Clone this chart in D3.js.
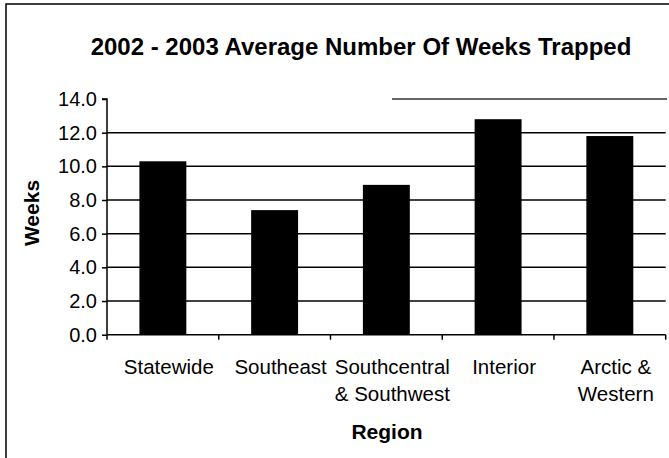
<!DOCTYPE html>
<html>
<head>
<meta charset="utf-8">
<script src="https://cdn.jsdelivr.net/npm/d3@7/dist/d3.min.js"></script>
<style>
  html, body { margin: 0; padding: 0; background: #fff; }
  svg { display: block; font-family: "Liberation Sans", Arial, sans-serif; }
</style>
</head>
<body>
<svg id="chart" width="669" height="458"></svg>
<script>
// ---- data ----
const categories = ["Statewide", "Southeast", "Southcentral & Southwest", "Interior", "Arctic & Western"];
const categoryLines = [["Statewide"], ["Southeast"], ["Southcentral", "& Southwest"], ["Interior"], ["Arctic &", "Western"]];
const weeks = [10.3, 7.4, 8.9, 12.8, 11.8];
const yTicks = [0, 2, 4, 6, 8, 10, 12, 14];
const title = "2002 - 2003 Average Number Of Weeks Trapped";
const yTitle = "Weeks";
const xTitle = "Region";

// ---- layout ----
const svg = d3.select("#chart");
const plot = { left: 107, right: 665.7, top: 99, bottom: 334.7 };

const x = d3.scaleBand().domain(categories).range([plot.left, plot.right]).padding(0);
const y = d3.scaleLinear().domain([0, 14]).range([plot.bottom, plot.top]);

// outer border (left + top)
svg.append("path")
  .attr("d", `M6,458 L6,4 L669,4`)
  .attr("fill", "none").attr("stroke", "#000").attr("stroke-width", 1.5);

// title
svg.append("text")
  .attr("x", 361).attr("y", 55)
  .attr("text-anchor", "middle")
  .attr("font-size", 24).attr("font-weight", "bold")
  .text(title);

// gridlines
svg.append("g").selectAll("line")
  .data(yTicks.filter(t => t > 0 && t < 14))
  .join("line")
  .attr("x1", plot.left).attr("x2", plot.right)
  .attr("y1", d => y(d)).attr("y2", d => y(d))
  .attr("stroke", "#000").attr("stroke-width", 1.5);

// partial top line (as in the reference)
svg.append("line")
  .attr("x1", 392).attr("x2", 667)
  .attr("y1", y(14)).attr("y2", y(14))
  .attr("stroke", "#333").attr("stroke-width", 1.5);

// bars
const barFrac = 0.42;
svg.append("g").selectAll("rect")
  .data(weeks)
  .join("rect")
  .attr("x", (d, i) => x(categories[i]) + x.bandwidth() * (1 - barFrac) / 2)
  .attr("width", x.bandwidth() * barFrac)
  .attr("y", d => y(d))
  .attr("height", d => y(0) - y(d))
  .attr("fill", "#000");

// y axis
const yAxis = svg.append("g")
  .attr("transform", `translate(${plot.left},0)`)
  .call(d3.axisLeft(y).tickValues(yTicks).tickFormat(d3.format(".1f")).tickSize(5).tickPadding(5));
yAxis.select(".domain").attr("d", `M-5,${y(14)}H0V${y(0)}`).attr("stroke-width", 1.5);
yAxis.selectAll(".tick line").attr("stroke-width", 1.5);
yAxis.selectAll(".tick text").attr("font-size", 20).attr("fill", "#000")
  .attr("font-family", "'Liberation Sans', Arial, sans-serif");

// x axis line and boundary ticks
const xg = svg.append("g");
xg.append("line")
  .attr("x1", plot.left).attr("x2", plot.right)
  .attr("y1", y(0)).attr("y2", y(0))
  .attr("stroke", "#000").attr("stroke-width", 1.5);
const bounds = categories.map(c => x(c)).concat([x(categories[categories.length - 1]) + x.bandwidth()]);
xg.selectAll("line.tk")
  .data(bounds)
  .join("line").attr("class", "tk")
  .attr("x1", d => d).attr("x2", d => d)
  .attr("y1", y(0)).attr("y2", y(0) + 5)
  .attr("stroke", "#000").attr("stroke-width", 1.5);

// category labels
const lab = svg.append("g").selectAll("text")
  .data(categoryLines)
  .join("text")
  .attr("text-anchor", "middle")
  .attr("font-size", 20.5);
lab.each(function (lines, i) {
  const cx = x(categories[i]) + x.bandwidth() / 2 + 6;
  d3.select(this).selectAll("tspan")
    .data(lines)
    .join("tspan")
    .attr("x", cx)
    .attr("y", (d, j) => 374 + j * 27)
    .text(d => d);
});

// axis titles
svg.append("text")
  .attr("transform", `translate(38.5,213) rotate(-90)`)
  .attr("text-anchor", "middle")
  .attr("font-size", 21).attr("font-weight", "bold")
  .text(yTitle);

svg.append("text")
  .attr("x", 387).attr("y", 438.5)
  .attr("text-anchor", "middle")
  .attr("font-size", 21).attr("font-weight", "bold")
  .text(xTitle);
</script>
</body>
</html>
